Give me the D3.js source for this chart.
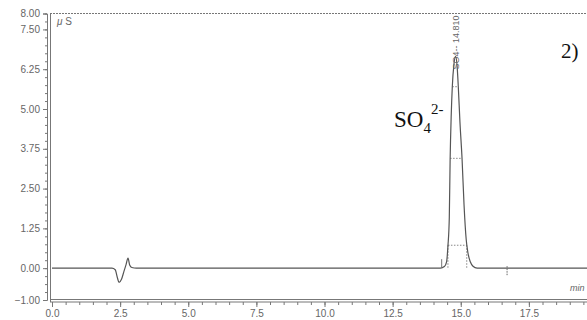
<!DOCTYPE html>
<html>
<head>
<meta charset="utf-8">
<script src="https://cdn.jsdelivr.net/npm/d3@7"></script>
<style>
  body { margin: 0; background: #fff; }
  svg { display: block; }
  .tick text { font-family: "Liberation Sans", Arial, sans-serif; font-size: 10px; fill: #666; }
  .tick line, .domain { stroke: #777; }
</style>
</head>
<body>
<div id="chart"></div>
<script>
// chromatogram trace (time in min, conductivity in µS)
const traceTime = [0, 2.2, 2.32, 2.4, 2.46, 2.55, 2.64, 2.72, 2.79, 2.85, 2.93, 3.1,
    14.25, 14.4, 14.48, 14.53, 14.58, 14.61, 14.65, 14.69, 14.75, 14.81, 14.87, 14.91,
    14.97, 15.05, 15.12, 15.2, 15.26, 15.35, 15.45, 15.6, 20];
const traceValue = [0, 0, -0.05, -0.3, -0.45, -0.35, -0.1, 0.12, 0.32, 0.1, 0.02, 0,
    0, 0.05, 0.2, 0.7, 1.6, 3.4, 4.8, 5.7, 6.4, 6.65, 6.3, 5.7,
    4.6, 3.4, 2.0, 0.9, 0.5, 0.2, 0.06, 0, 0];

// peak width lines
const levelValue = [5.7, 3.45, 0.72];
const levelStart = [14.69, 14.61, 14.53];
const levelEnd = [14.91, 15.05, 15.22];

const xTicks = [0, 2.5, 5, 7.5, 10, 12.5, 15, 17.5, 20];
const yTicks = [8, 7.5, 6.25, 5, 3.75, 2.5, 1.25, 0, -1];
const peakLabel = "SO4-- 14.810";
const peakTime = 14.81;
const markTimes = [14.3, 16.7];

const width = 587, height = 320;

const svg = d3.select("#chart").append("svg")
    .attr("width", width)
    .attr("height", height);

const x = d3.scaleLinear().domain([0, 20]).range([52, 597]);
const y = d3.scaleLinear().domain([-1, 8]).range([300, 13.5]);

// top frame (dotted)
svg.append("line")
    .attr("x1", 50).attr("x2", width)
    .attr("y1", y(8)).attr("y2", y(8))
    .attr("stroke", "#777").attr("stroke-width", 1.2)
    .attr("stroke-dasharray", "2,1");

// y axis: minor + major ticks, double line
svg.append("g")
    .attr("transform", "translate(47,0)")
    .call(d3.axisLeft(y).tickValues(d3.range(-1, 8.001, 0.25)).tickSize(2).tickFormat(""))
    .call(g => g.select(".domain").remove());

svg.append("g")
    .attr("transform", "translate(47,0)")
    .call(d3.axisLeft(y).tickValues(yTicks).tickSize(4).tickPadding(3).tickFormat(d3.format(".2f")))
    .call(g => g.select(".domain").attr("stroke", "#666"));

svg.append("line")
    .attr("x1", 50.5).attr("x2", 50.5)
    .attr("y1", y(8)).attr("y2", y(-1) + 2)
    .attr("stroke", "#777");

// x axis: double line at the bottom, ticks pointing down
svg.append("g")
    .attr("transform", `translate(0,${y(-1) + 2})`)
    .call(d3.axisBottom(x).tickValues(d3.range(0, 20.001, 0.5)).tickSize(3).tickFormat(""))
    .call(g => g.select(".domain").remove());

svg.append("g")
    .attr("transform", `translate(0,${y(-1) + 2})`)
    .call(d3.axisBottom(x).tickValues(xTicks).tickSize(5).tickPadding(3).tickFormat(d3.format(".1f")))
    .call(g => g.select(".domain").remove());

svg.append("line")
    .attr("x1", 50).attr("x2", width)
    .attr("y1", y(-1) - 0.5).attr("y2", y(-1) - 0.5)
    .attr("stroke", "#777");
svg.append("line")
    .attr("x1", 50).attr("x2", width)
    .attr("y1", y(-1) + 2).attr("y2", y(-1) + 2)
    .attr("stroke", "#777");

// peak width lines (dotted)
levelValue.forEach((v, i) => {
    svg.append("line")
        .attr("x1", x(levelStart[i])).attr("x2", x(levelEnd[i]))
        .attr("y1", y(v)).attr("y2", y(v))
        .attr("stroke", "#888").attr("stroke-dasharray", "1.5,1.5");
});
[levelStart[2], levelEnd[2]].forEach(t => {
    svg.append("line")
        .attr("x1", x(t)).attr("x2", x(t))
        .attr("y1", y(levelValue[2])).attr("y2", y(0))
        .attr("stroke", "#888").attr("stroke-dasharray", "1.5,1.5");
});

// trace
const line = d3.line()
    .x((d, i) => x(traceTime[i]))
    .y(d => y(d))
    .curve(d3.curveMonotoneX);

svg.append("path")
    .datum(traceValue)
    .attr("fill", "none")
    .attr("stroke", "#555")
    .attr("stroke-width", 1.2)
    .attr("d", line);

// integration marks
svg.append("line")
    .attr("x1", x(markTimes[0])).attr("x2", x(markTimes[0]))
    .attr("y1", y(0) - 9).attr("y2", y(0))
    .attr("stroke", "#777");
svg.append("line")
    .attr("x1", x(markTimes[1])).attr("x2", x(markTimes[1]))
    .attr("y1", y(0) - 2).attr("y2", y(0) + 8)
    .attr("stroke", "#666").attr("stroke-dasharray", "1.5,1");

// vertical peak label
svg.append("text")
    .attr("transform", `translate(${x(peakTime) + 3},${y(8) + 2}) rotate(-90)`)
    .attr("text-anchor", "end")
    .style("font-family", "Liberation Sans, Arial, sans-serif")
    .style("font-size", "9px")
    .style("fill", "#666")
    .text(peakLabel);

// unit labels
svg.append("text")
    .attr("x", 57).attr("y", 25)
    .style("font-family", "Liberation Sans, Arial, sans-serif")
    .style("font-size", "10px")
    .style("fill", "#666")
    .html('<tspan font-style="italic">μ</tspan> S');

svg.append("text")
    .attr("x", 570).attr("y", 291)
    .style("font-family", "Liberation Sans, Arial, sans-serif")
    .style("font-size", "9px")
    .style("font-style", "italic")
    .style("fill", "#666")
    .text("min");

// ion label and panel number
const ion = svg.append("text")
    .attr("x", 394).attr("y", 127)
    .style("font-family", "Liberation Serif, 'Times New Roman', serif")
    .style("font-size", "23px")
    .style("fill", "#111");
ion.append("tspan").text("SO");
ion.append("tspan").attr("dy", 6).style("font-size", "15px").text("4");
ion.append("tspan").attr("dy", -19).style("font-size", "15px").text("2-");

svg.append("text")
    .attr("x", 561).attr("y", 58)
    .style("font-family", "Liberation Serif, 'Times New Roman', serif")
    .style("font-size", "21px")
    .style("fill", "#111")
    .text("2)");
</script>
</body>
</html>
